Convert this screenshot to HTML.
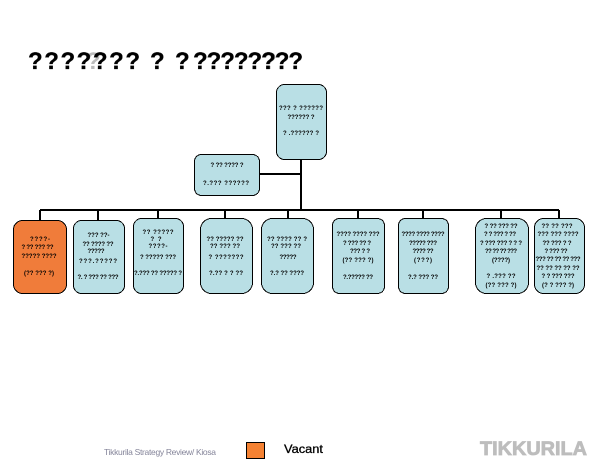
<!DOCTYPE html>
<html><head><meta charset="utf-8"><style>
html,body{margin:0;padding:0;background:#fff;width:605px;height:475px;overflow:hidden}
svg{display:block}
text{font-family:"Liberation Sans",sans-serif}
rect,path{shape-rendering:crispEdges}
.b{fill:#b9dfe5;stroke:#000;stroke-width:1}
.l{stroke:#000;stroke-width:2;fill:none}
.t{font-size:6px;fill:#000;text-anchor:middle;font-weight:bold}
</style></head><body>
<svg width="605" height="475" viewBox="0 0 605 475" xmlns="http://www.w3.org/2000/svg">
<g font-size="24" font-weight="bold">
<g fill="#bbb">
<text x="86" y="69">?</text>
<text x="262" y="69">?</text>
</g>
<g stroke="#000" stroke-width="0.3">
<text x="28" y="69" textLength="112">???????</text>
<text x="150" y="69">?</text>
<text x="175" y="69">?</text>
<text x="193" y="69" textLength="110">????????</text>
</g>
</g>
<path class="l" d="M301 159V210M260 174H301M40 210H559M40 210V220M98 210V220M158 210V218M225 210V218M288 210V218M358 210V218M423 210V218M501 210V218M559 210V218"/>
<rect class="b" x="276.5" y="84.5" width="50" height="75" rx="8"/>
<rect class="b" x="194.5" y="154.5" width="65" height="41" rx="7"/>
<rect x="13.5" y="220.5" width="53" height="73" rx="9" fill="#f07c3a" stroke="#000"/>
<rect class="b" x="73.5" y="220.5" width="51" height="73" rx="8"/>
<rect class="b" x="133.5" y="218.5" width="50" height="75" rx="8"/>
<rect class="b" x="200.5" y="218.5" width="52" height="75" rx="11"/>
<rect class="b" x="261.5" y="218.5" width="52" height="75" rx="11"/>
<rect class="b" x="332.5" y="218.5" width="52" height="75" rx="7"/>
<rect class="b" x="398.5" y="218.5" width="50" height="75" rx="7"/>
<rect class="b" x="475.5" y="218.5" width="53" height="75" rx="11"/>
<rect class="b" x="534.5" y="218.5" width="50" height="75" rx="9"/>
<g class="t">
<text x="301" y="110" textLength="44">??? ? ??????</text>
<text x="301" y="119" textLength="27">?????? ?</text>
<text x="301" y="135" textLength="36">? .?????? ?</text>
<text x="227" y="167" textLength="33">? ?? ???? ?</text>
<text x="226" y="185" textLength="46">?.??? ??????</text>

<text x="40" y="241" textLength="20">????-</text>
<text x="37.500" y="249" textLength="32">? ?? ??? ??</text>
<text x="39" y="258" textLength="35">????? ????</text>
<text x="39" y="275" textLength="30">(?? ??? ?)</text>

<text x="98.500" y="237" textLength="22">??? ??-</text>
<text x="98" y="246" textLength="31">?? ???? ??</text>
<text x="96" y="253" textLength="17">?????</text>
<text x="98" y="263" textLength="38">???.?????</text>
<text x="98" y="279" textLength="41">?. ? ??? ?? ???</text>

<text x="158" y="234" textLength="31">?? ?????</text>
<text x="156" y="241" textLength="11">??</text>
<text x="158" y="248" textLength="19">????-</text>
<text x="158" y="259" textLength="36">? ????? ???</text>
<text x="158" y="275" textLength="48">?.??? ?? ????? ?</text>

<text x="225" y="241" textLength="37">?? ????? ??</text>
<text x="225" y="248" textLength="30">?? ??? ??</text>
<text x="226" y="259" textLength="35">? ???????</text>
<text x="226" y="275" textLength="34">?.?? ? ? ??</text>

<text x="287" y="241" textLength="40">?? ???? ?? ?</text>
<text x="286" y="248" textLength="30">?? ??? ??</text>
<text x="288" y="259" textLength="17">?????</text>
<text x="287" y="275" textLength="34">?.? ?? ????</text>

<text x="358" y="236" textLength="43">???? ???? ???</text>
<text x="357" y="245" textLength="28">? ??? ?? ?</text>
<text x="360" y="253" textLength="20">??? ? ?</text>
<text x="358" y="262" textLength="31">(?? ??? ?)</text>
<text x="358" y="279" textLength="30">?.????? ??</text>

<text x="423" y="236" textLength="43">???? ???? ????</text>
<text x="423" y="245" textLength="28">????? ???</text>
<text x="423" y="253" textLength="21">???? ??</text>
<text x="423" y="262" textLength="18">(???)</text>
<text x="423" y="279" textLength="30">?.? ??? ??</text>

<text x="501" y="228" textLength="33">? ?? ??? ??</text>
<text x="500" y="236" textLength="32">? ? ??? ? ??</text>
<text x="501" y="245" textLength="42">? ??? ??? ? ? ?</text>
<text x="501" y="253" textLength="32">?? ?? ?? ???</text>
<text x="501" y="262" textLength="18">(????)</text>
<text x="501" y="278" textLength="29">? .??? ??</text>
<text x="501" y="287" textLength="31">(?? ??? ?)</text>

<text x="557" y="228" textLength="31">?? ?? ???</text>
<text x="558" y="236" textLength="41">??? ??? ????</text>
<text x="557" y="245" textLength="29">?? ??? ? ?</text>
<text x="556" y="253" textLength="23">? ??? ??</text>
<text x="558" y="261" textLength="45">??? ?? ?? ?? ???</text>
<text x="558" y="270" textLength="43">?? ?? ?? ?? ??</text>
<text x="558" y="278" textLength="33">? ? ??? ???</text>
<text x="558" y="287" textLength="32">(? ? ??? ?)</text>
</g>
<text x="104" y="455" font-size="8.500" fill="#85859a" textLength="112">Tikkurila Strategy Review/ Kiosa</text>
<rect x="246.500" y="442.500" width="18" height="16" fill="#f58233" stroke="#000"/>
<text x="284" y="453" font-size="12" stroke="#000" stroke-width="0.3" textLength="39" lengthAdjust="spacingAndGlyphs">Vacant</text>
<text x="480" y="455" font-size="19.500" font-weight="bold" fill="#bdbdbd" stroke="#bdbdbd" stroke-width="0.8" textLength="107" lengthAdjust="spacingAndGlyphs">TIKKURILA</text>
</svg>
</body></html>
